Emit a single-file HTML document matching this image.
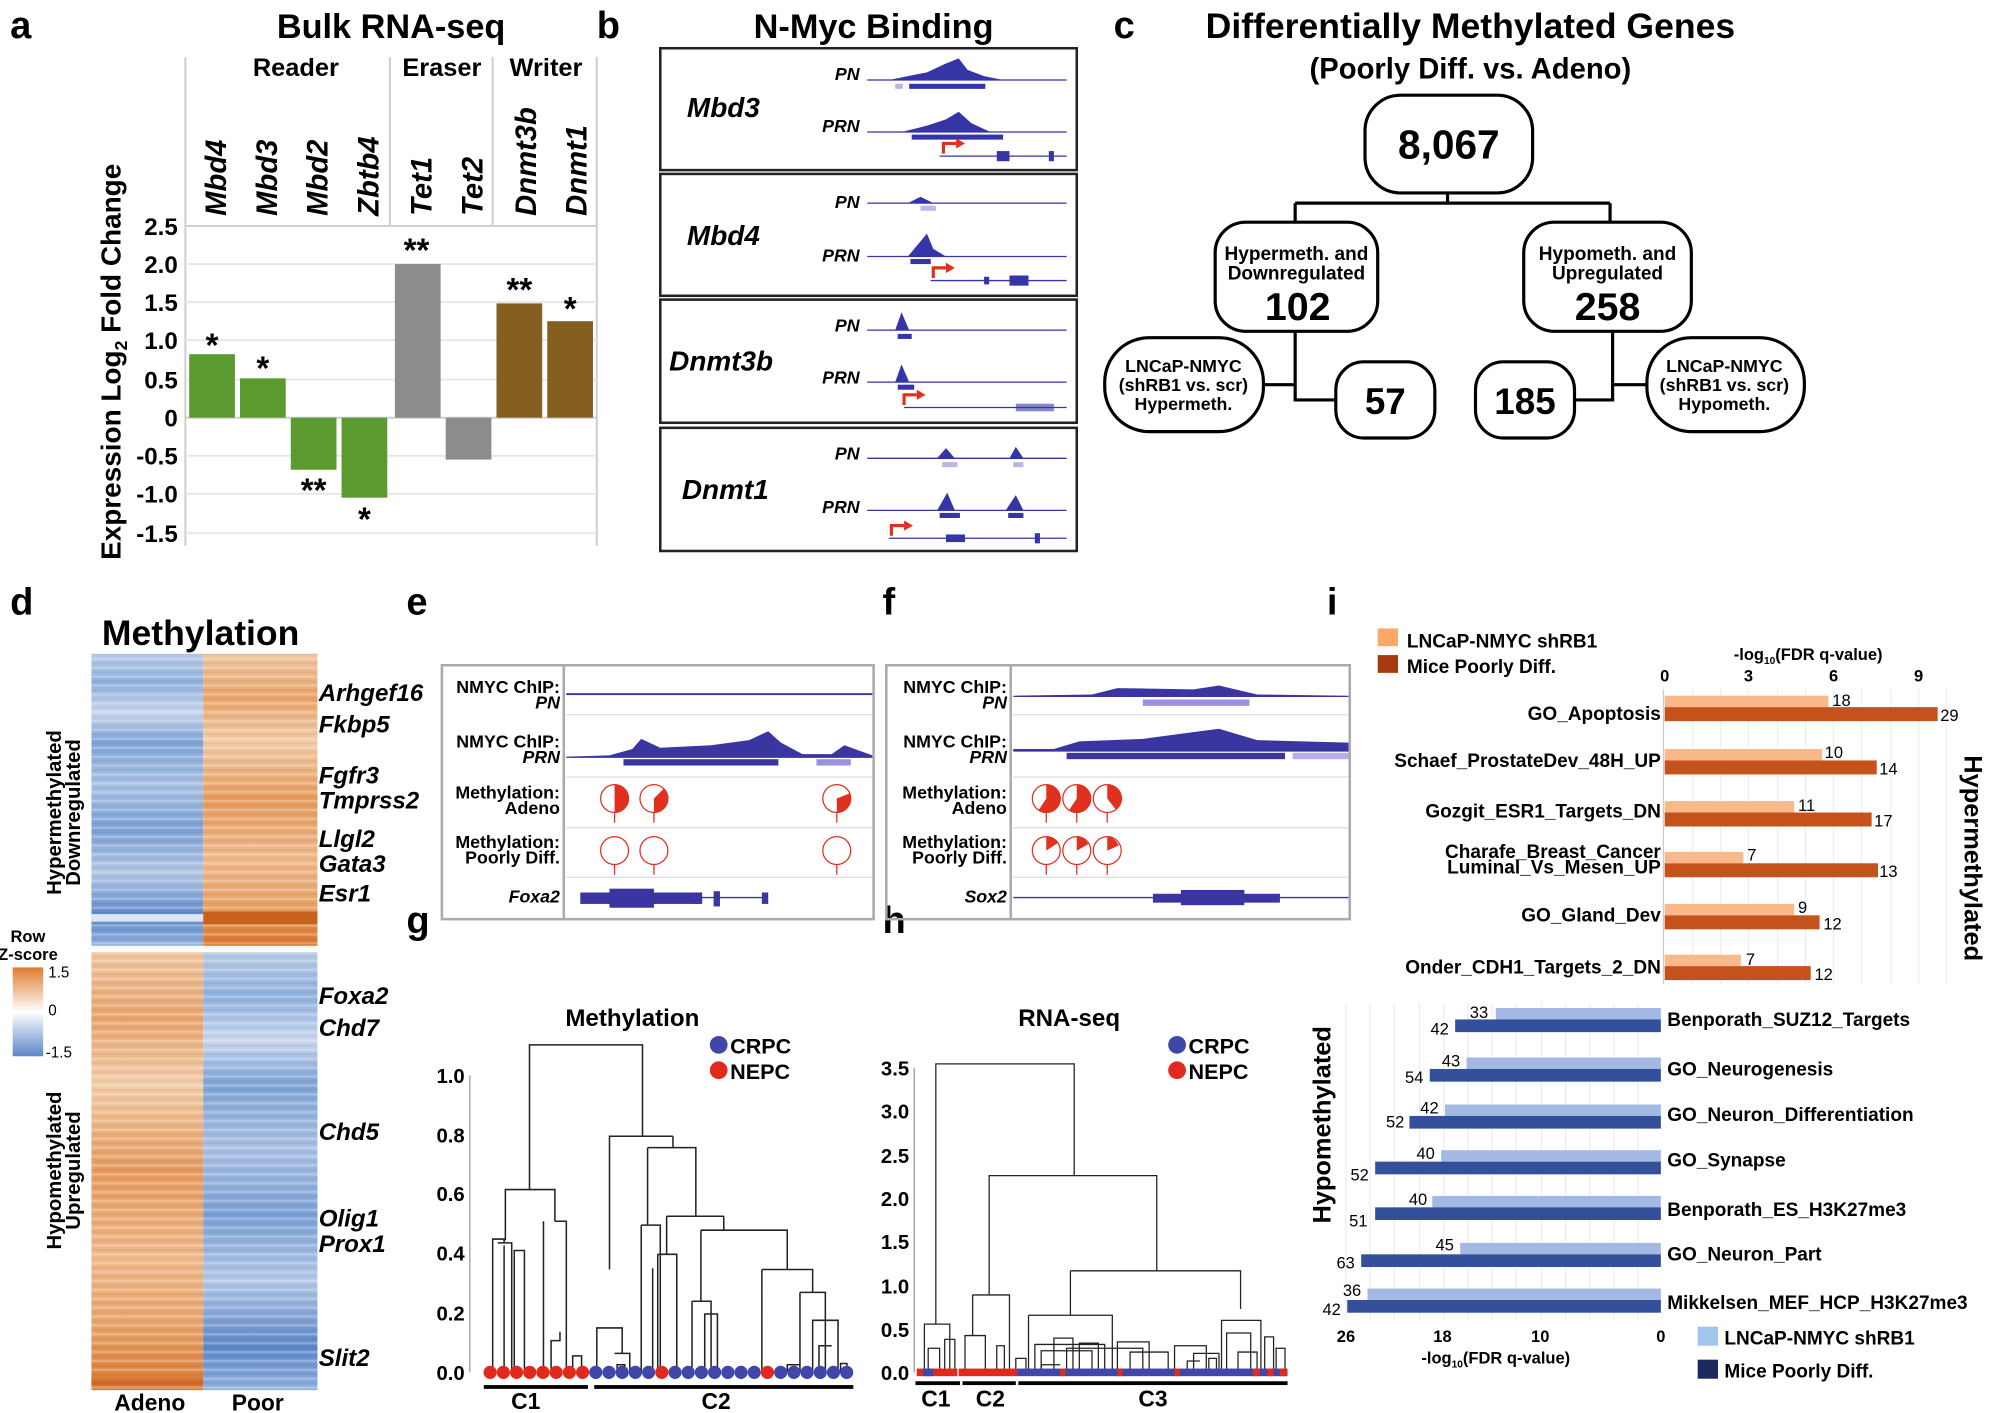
<!DOCTYPE html>
<html><head><meta charset="utf-8"><style>
html,body{margin:0;padding:0;background:#fff}
svg{display:block}
text{font-family:"Liberation Sans",sans-serif}
</style></head><body>
<svg width="1991" height="1413" viewBox="0 0 1568 1113" preserveAspectRatio="none" xmlns="http://www.w3.org/2000/svg">
<defs>
<linearGradient id="hb" x1="0" y1="0" x2="0" y2="1">
<stop offset="0" stop-color="#b8cbe6"/><stop offset="0.1" stop-color="#8fb0dd"/><stop offset="0.2" stop-color="#c9d6ec"/><stop offset="0.3" stop-color="#7ea3d6"/><stop offset="0.45" stop-color="#a9c0e3"/><stop offset="0.6" stop-color="#7a9fd4"/><stop offset="0.75" stop-color="#b3c7e6"/><stop offset="0.9" stop-color="#5b86c8"/><stop offset="1" stop-color="#8fb0dd"/></linearGradient>
<linearGradient id="ho" x1="0" y1="0" x2="0" y2="1">
<stop offset="0" stop-color="#f0c6a0"/><stop offset="0.15" stop-color="#e8a36a"/><stop offset="0.3" stop-color="#f2cca8"/><stop offset="0.5" stop-color="#e59a5c"/><stop offset="0.7" stop-color="#eeb88a"/><stop offset="0.85" stop-color="#e8a36a"/><stop offset="1" stop-color="#d9752e"/></linearGradient>
<pattern id="st" width="10" height="7" patternUnits="userSpaceOnUse"><rect width="10" height="2" fill="#fff" opacity="0.25"/><rect y="4" width="10" height="1" fill="#000" opacity="0.05"/></pattern>
<linearGradient id="leg" x1="0" y1="0" x2="0" y2="1"><stop offset="0" stop-color="#e07b2e"/><stop offset="0.5" stop-color="#fff"/><stop offset="1" stop-color="#5b86c8"/></linearGradient>
</defs>
<g font-weight="bold" font-size="30" fill="#000">
<text x="8" y="30">a</text><text x="470" y="30">b</text><text x="877" y="30">c</text>
<text x="8" y="484">d</text><text x="320" y="484">e</text><text x="695" y="484">f</text>
<text x="1045" y="484">i</text><text x="320" y="735">g</text><text x="695" y="735">h</text>
</g>
<!-- Panel a -->
<text x="308" y="30" font-size="27" font-weight="bold" text-anchor="middle">Bulk RNA-seq</text>
<g stroke="#ccc" stroke-width="1.5" fill="none">
<line x1="146" y1="45" x2="146" y2="430"/><line x1="470" y1="45" x2="470" y2="430"/>
<line x1="307" y1="45" x2="307" y2="178"/><line x1="388" y1="45" x2="388" y2="178"/>
<line x1="146" y1="178" x2="470" y2="178"/>
<line x1="146" y1="208" x2="470" y2="208" stroke="#e6e6e6"/><line x1="146" y1="238" x2="470" y2="238" stroke="#e6e6e6"/>
<line x1="146" y1="268" x2="470" y2="268" stroke="#e6e6e6"/><line x1="146" y1="299" x2="470" y2="299" stroke="#e6e6e6"/>
<line x1="146" y1="329" x2="470" y2="329"/><line x1="146" y1="359" x2="470" y2="359" stroke="#e6e6e6"/>
<line x1="146" y1="389" x2="470" y2="389" stroke="#e6e6e6"/><line x1="146" y1="420" x2="470" y2="420" stroke="#e6e6e6"/>
</g>
<g font-size="20" font-weight="bold" text-anchor="middle">
<text x="233" y="60">Reader</text><text x="348" y="60">Eraser</text><text x="430" y="60">Writer</text>
</g>
<g font-size="23" font-weight="bold" font-style="italic">
<text transform="translate(178,170) rotate(-90)">Mbd4</text>
<text transform="translate(218,170) rotate(-90)">Mbd3</text>
<text transform="translate(258,170) rotate(-90)">Mbd2</text>
<text transform="translate(298,170) rotate(-90)">Zbtb4</text>
<text transform="translate(340,170) rotate(-90)">Tet1</text>
<text transform="translate(380,170) rotate(-90)">Tet2</text>
<text transform="translate(422,170) rotate(-90)">Dnmt3b</text>
<text transform="translate(462,170) rotate(-90)">Dnmt1</text>
</g>
<g font-size="19" font-weight="bold" text-anchor="end">
<text x="140" y="185">2.5</text><text x="140" y="215">2.0</text><text x="140" y="245">1.5</text><text x="140" y="275">1.0</text><text x="140" y="306">0.5</text><text x="140" y="336">0</text><text x="140" y="366">-0.5</text><text x="140" y="396">-1.0</text><text x="140" y="427">-1.5</text>
</g>
<text transform="translate(95,285) rotate(-90)" font-size="22" font-weight="bold" text-anchor="middle">Expression Log<tspan font-size="14" dy="5">2</tspan><tspan dy="-5"> Fold Change</tspan></text>
<rect x="149" y="279" width="36" height="50" fill="#5a9a2f"/>
<rect x="189" y="298" width="36" height="31" fill="#5a9a2f"/>
<rect x="229" y="329" width="36" height="41" fill="#5a9a2f"/>
<rect x="269" y="329" width="36" height="63" fill="#5a9a2f"/>
<rect x="311" y="208" width="36" height="121" fill="#8c8c8c"/>
<rect x="351" y="329" width="36" height="33" fill="#8c8c8c"/>
<rect x="391" y="239" width="36" height="90" fill="#855f20"/>
<rect x="431" y="253" width="36" height="76" fill="#855f20"/>
<g font-size="26" font-weight="bold" text-anchor="middle">
<text x="167" y="281">*</text><text x="207" y="299">*</text><text x="247" y="395">**</text><text x="287" y="418">*</text>
<text x="328" y="206">**</text><text x="409" y="237">**</text><text x="449" y="252">*</text>
</g>
<!-- Panel b -->
<text x="688" y="30" font-size="27" font-weight="bold" text-anchor="middle">N-Myc Binding</text>
<g fill="none" stroke="#222" stroke-width="2">
<rect x="520" y="38" width="328" height="96"/><rect x="520" y="137" width="328" height="96"/>
<rect x="520" y="236" width="328" height="97"/><rect x="520" y="337" width="328" height="97"/>
</g>
<g font-size="22" font-weight="bold" font-style="italic">
<text x="541" y="92">Mbd3</text><text x="541" y="193">Mbd4</text><text x="527" y="292">Dnmt3b</text><text x="537" y="393">Dnmt1</text>
</g>
<g font-size="14" font-weight="bold" font-style="italic" text-anchor="end">
<text x="677" y="63">PN</text><text x="677" y="104">PRN</text><text x="677" y="164">PN</text><text x="677" y="206">PRN</text>
<text x="677" y="261">PN</text><text x="677" y="302">PRN</text><text x="677" y="362">PN</text><text x="677" y="404">PRN</text>
</g>
<g fill="#3535a8">
<line x1="683" y1="63" x2="840" y2="63" stroke="#3535a8"/>
<path d="M700 63 L715 60 L730 57 L745 50 L755 46 L762 55 L775 60 L790 63Z"/>
<rect x="716" y="66" width="60" height="4"/><rect x="705" y="66" width="6" height="4" fill="#b8b8e6"/>
<line x1="683" y1="104" x2="840" y2="104" stroke="#3535a8"/>
<path d="M710 104 L730 99 L745 94 L755 88 L765 97 L780 104Z"/>
<rect x="718" y="106" width="72" height="4"/>
<line x1="740" y1="123" x2="840" y2="123" stroke="#3535a8"/><rect x="785" y="119" width="10" height="8"/><rect x="826" y="119" width="4" height="8"/>
<line x1="683" y1="160" x2="840" y2="160" stroke="#3535a8"/><path d="M715 160 L725 155 L735 160Z"/><rect x="725" y="162" width="12" height="4" fill="#b8b8e6"/>
<line x1="683" y1="202" x2="840" y2="202" stroke="#3535a8"/><path d="M715 202 L725 190 L730 184 L735 196 L745 202Z"/><rect x="717" y="204" width="16" height="4"/>
<line x1="733" y1="221" x2="840" y2="221" stroke="#3535a8"/><rect x="795" y="217" width="15" height="8"/><rect x="775" y="218" width="4" height="6"/>
<line x1="683" y1="260" x2="840" y2="260" stroke="#3535a8"/><path d="M705 260 L710 246 L716 260Z"/><rect x="707" y="263" width="11" height="4"/>
<line x1="683" y1="301" x2="840" y2="301" stroke="#3535a8"/><path d="M705 301 L710 287 L716 301Z"/><rect x="707" y="303" width="13" height="4"/>
<line x1="712" y1="321" x2="840" y2="321" stroke="#3535a8"/><rect x="800" y="318" width="30" height="6" opacity="0.6"/>
<line x1="683" y1="361" x2="840" y2="361" stroke="#3535a8"/><path d="M738 361 L745 353 L752 361Z M795 361 L800 352 L806 361Z"/><rect x="742" y="364" width="12" height="4" fill="#b8b8e6"/><rect x="798" y="364" width="8" height="4" fill="#b8b8e6"/>
<line x1="683" y1="402" x2="840" y2="402" stroke="#3535a8"/><path d="M738 402 L746 388 L752 402Z M792 402 L800 390 L806 402Z"/><rect x="740" y="404" width="16" height="4"/><rect x="794" y="404" width="12" height="4"/>
<line x1="700" y1="424" x2="840" y2="424" stroke="#3535a8"/><rect x="745" y="421" width="15" height="6"/><rect x="815" y="420" width="4" height="8"/>
</g>
<g stroke="#e0301e" stroke-width="2.5" fill="none">
<path d="M743 121 V113 H753"/><path d="M735 219 V211 H745"/><path d="M712 319 V311 H722"/><path d="M702 422 V414 H712"/>
</g>
<g fill="#e0301e"><path d="M753 109 L760 113 L753 117Z"/><path d="M745 207 L752 211 L745 215Z"/><path d="M722 307 L729 311 L722 315Z"/><path d="M712 410 L719 414 L712 418Z"/></g>
<!-- Panel c -->
<g font-weight="bold" text-anchor="middle">
<text x="1158" y="30" font-size="28">Differentially Methylated Genes</text>
<text x="1158" y="62" font-size="23">(Poorly Diff. vs. Adeno)</text>
</g>
<g fill="#fff" stroke="#000" stroke-width="2.5">
<path d="M1140 152 V160 M1020 160 H1268 M1020 160 V175 M1268 160 V175" fill="none"/>
<rect x="1075" y="75" width="132" height="77" rx="28"/>
<rect x="957" y="175" width="128" height="86" rx="24"/>
<rect x="1200" y="175" width="132" height="86" rx="24"/>
<path d="M1020 261 V315 H1052 M995 303 H1020 M1270 261 V315 H1240 M1270 303 H1297" fill="none"/>
<rect x="870" y="266" width="125" height="74" rx="35"/>
<rect x="1052" y="285" width="78" height="60" rx="22"/>
<rect x="1162" y="285" width="78" height="60" rx="22"/>
<rect x="1297" y="266" width="124" height="74" rx="35"/>
</g>
<g font-weight="bold" text-anchor="middle">
<text x="1141" y="125" font-size="32">8,067</text>
<text x="1021" y="205" font-size="15">Hypermeth. and</text><text x="1021" y="220" font-size="15">Downregulated</text>
<text x="1022" y="252" font-size="31">102</text>
<text x="1266" y="205" font-size="15">Hypometh. and</text><text x="1266" y="220" font-size="15">Upregulated</text>
<text x="1266" y="252" font-size="31">258</text>
<text x="932" y="293" font-size="14">LNCaP-NMYC</text><text x="932" y="308" font-size="14">(shRB1 vs. scr)</text><text x="932" y="323" font-size="14">Hypermeth.</text>
<text x="1358" y="293" font-size="14">LNCaP-NMYC</text><text x="1358" y="308" font-size="14">(shRB1 vs. scr)</text><text x="1358" y="323" font-size="14">Hypometh.</text>
<text x="1091" y="326" font-size="29">57</text><text x="1201" y="326" font-size="29">185</text>
</g>
<!-- Panel d -->
<text x="158" y="508" font-size="28" font-weight="bold" text-anchor="middle">Methylation</text>
<rect x="72" y="515" width="88" height="230" fill="url(#hb)"/>
<rect x="160" y="515" width="90" height="230" fill="url(#ho)"/>
<rect x="72" y="750" width="88" height="345" fill="url(#ho)"/>
<rect x="160" y="750" width="90" height="345" fill="url(#hb)"/>
<rect x="72" y="515" width="178" height="580" fill="url(#st)"/>
<rect x="160" y="718" width="90" height="10" fill="#c8601e"/><rect x="72" y="720" width="88" height="6" fill="#dbe5f3"/>
<rect x="72" y="1085" width="88" height="6" fill="#c8601e" opacity="0.6"/>
<g font-size="19" font-weight="bold" font-style="italic">
<text x="251" y="552">Arhgef16</text><text x="251" y="577">Fkbp5</text><text x="251" y="617">Fgfr3</text><text x="251" y="637">Tmprss2</text>
<text x="251" y="667">Llgl2</text><text x="251" y="687">Gata3</text><text x="251" y="710">Esr1</text>
<text x="251" y="791">Foxa2</text><text x="251" y="816">Chd7</text><text x="251" y="898">Chd5</text>
<text x="251" y="966">Olig1</text><text x="251" y="986">Prox1</text><text x="251" y="1076">Slit2</text>
</g>
<g font-size="16" font-weight="bold" text-anchor="middle">
<text transform="translate(48,640) rotate(-90)">Hypermethylated</text><text transform="translate(63,640) rotate(-90)">Downregulated</text>
<text transform="translate(48,922) rotate(-90)">Hypomethylated</text><text transform="translate(63,922) rotate(-90)">Upregulated</text>
<text x="118" y="1111" font-size="18">Adeno</text><text x="203" y="1111" font-size="18">Poor</text>
</g>
<text x="22" y="742" font-size="13" font-weight="bold" text-anchor="middle">Row</text>
<text x="22" y="756" font-size="13" font-weight="bold" text-anchor="middle">Z-score</text>
<rect x="10" y="762" width="24" height="70" fill="url(#leg)"/>
<g font-size="12"><text x="38" y="770">1.5</text><text x="38" y="800">0</text><text x="36" y="833">-1.5</text></g>
<!-- Panel e -->
<g fill="none" stroke="#aaa" stroke-width="2"><rect x="348" y="524" width="340" height="200"/><line x1="444" y1="524" x2="444" y2="724"/></g>
<g stroke="#ddd"><line x1="446" y1="563" x2="687" y2="563"/><line x1="446" y1="612" x2="687" y2="612"/><line x1="446" y1="652" x2="687" y2="652"/><line x1="446" y1="691" x2="687" y2="691"/></g>
<g font-size="14" font-weight="bold" text-anchor="end">
<text x="441" y="546">NMYC ChIP:</text><text x="441" y="558" font-style="italic">PN</text>
<text x="441" y="589">NMYC ChIP:</text><text x="441" y="601" font-style="italic">PRN</text>
<text x="441" y="629">Methylation:</text><text x="441" y="641">Adeno</text>
<text x="441" y="668">Methylation:</text><text x="441" y="680">Poorly Diff.</text>
<text x="441" y="711" font-style="italic">Foxa2</text>
</g>
<g fill="#3a35a0">
<rect x="446" y="546" width="241" height="1.5"/>
<path d="M446 596 L480 595 L498 590 L505 582 L520 589 L560 587 L590 583 L605 576 L615 585 L632 594 L655 594 L665 587 L687 595 V597 H446Z"/>
<rect x="491" y="598" width="122" height="5"/><rect x="643" y="598" width="27" height="5" fill="#9a90e0"/>
<rect x="457" y="703" width="95" height="9"/><rect x="480" y="700" width="35" height="15"/><line x1="457" y1="707" x2="605" y2="707" stroke="#3a35a0"/><rect x="562" y="702" width="5" height="12"/><rect x="600" y="703" width="5" height="9"/><rect x="545" y="703" width="8" height="9"/>
</g>
<g stroke="#e0301e" fill="#fff" stroke-width="1">
<circle cx="484" cy="629" r="11"/><circle cx="515" cy="629" r="11"/><circle cx="659" cy="629" r="11"/>
<circle cx="484" cy="670" r="11"/><circle cx="515" cy="670" r="11"/><circle cx="659" cy="670" r="11"/>
<path d="M484 640 V648 M515 640 V648 M659 640 V648 M484 681 V689 M515 681 V689 M659 681 V689"/>
</g>
<g fill="#e0301e"><path d="M484 629 V618 A11 11 0 0 1 484 640Z"/><path d="M515 629 L523 621 A11 11 0 0 1 515 640Z"/><path d="M659 629 L669 625 A11 11 0 0 1 659 640Z"/></g>
<!-- Panel f -->
<g fill="none" stroke="#aaa" stroke-width="2"><rect x="698" y="524" width="365" height="200"/><line x1="796" y1="524" x2="796" y2="724"/></g>
<g stroke="#ddd"><line x1="798" y1="563" x2="1062" y2="563"/><line x1="798" y1="612" x2="1062" y2="612"/><line x1="798" y1="652" x2="1062" y2="652"/><line x1="798" y1="691" x2="1062" y2="691"/></g>
<g font-size="14" font-weight="bold" text-anchor="end">
<text x="793" y="546">NMYC ChIP:</text><text x="793" y="558" font-style="italic">PN</text>
<text x="793" y="589">NMYC ChIP:</text><text x="793" y="601" font-style="italic">PRN</text>
<text x="793" y="629">Methylation:</text><text x="793" y="641">Adeno</text>
<text x="793" y="668">Methylation:</text><text x="793" y="680">Poorly Diff.</text>
<text x="793" y="711" font-style="italic">Sox2</text>
</g>
<g fill="#3a35a0">
<path d="M798 548 L860 547 L880 542 L940 543 L960 540 L990 547 L1062 548 V549 H798Z"/>
<rect x="900" y="551" width="84" height="5" fill="#9a90e0"/>
<path d="M798 590 L830 590 L850 584 L900 582 L930 578 L960 574 L990 583 L1062 585 V592 H798Z"/>
<rect x="840" y="593" width="172" height="5"/><rect x="1018" y="593" width="44" height="5" fill="#b5aef0"/>
<line x1="798" y1="707" x2="1062" y2="707" stroke="#3a35a0"/><rect x="908" y="704" width="100" height="7"/><rect x="930" y="701" width="50" height="12"/>
</g>
<g stroke="#e0301e" fill="#fff" stroke-width="1">
<circle cx="824" cy="629" r="11"/><circle cx="848" cy="629" r="11"/><circle cx="872" cy="629" r="11"/>
<circle cx="824" cy="670" r="11"/><circle cx="848" cy="670" r="11"/><circle cx="872" cy="670" r="11"/>
<path d="M824 640 V648 M848 640 V648 M872 640 V648 M824 681 V689 M848 681 V689 M872 681 V689"/>
</g>
<g fill="#e0301e"><path d="M824 629 V618 A11 11 0 1 1 818 638Z"/><path d="M848 629 V618 A11 11 0 1 1 842 638Z"/><path d="M872 629 V618 A11 11 0 0 1 879 638Z"/>
<path d="M824 670 V659 A11 11 0 0 1 833 664Z"/><path d="M848 670 V659 A11 11 0 0 1 857 665Z"/><path d="M872 670 V659 A11 11 0 0 1 881 666Z"/></g>
<!-- Panel g -->
<text x="498" y="808" font-size="19" font-weight="bold" text-anchor="middle">Methylation</text>
<circle cx="566" cy="823" r="7" fill="#4147a8"/><text x="575" y="830" font-size="17" font-weight="bold">CRPC</text>
<circle cx="566" cy="843" r="7" fill="#e02a1e"/><text x="575" y="850" font-size="17" font-weight="bold">NEPC</text>
<g stroke="#999" fill="none"><line x1="370" y1="847" x2="370" y2="1081"/></g>
<g font-size="16" font-weight="bold" text-anchor="end">
<text x="366" y="1087">0.0</text><text x="366" y="1040">0.2</text><text x="366" y="993">0.4</text><text x="366" y="946">0.6</text><text x="366" y="900">0.8</text><text x="366" y="853">1.0</text></g>
<g stroke="#222" fill="none" stroke-width="1.2">
<path d="M417 937 V823 H506 V895"/>
<path d="M398 977 V937 H437 V962"/>
<path d="M388 1081 V976 H397 V979 M392 979 H403 V1081 M397 981 V1081 M405 1081 V985 H413 V1081"/>
<path d="M437 962 H446 V1081 M428 962 V1081 M434 1081 V1056 H441 V1049 M451 1081 V1068 H458 V1081"/>
<path d="M480 1000 V895 H530"/><path d="M470 1081 V1046 H490 V1066 M484 1066 H496 V1081 M486 1081 V1075 H492 V1081"/>
<path d="M530 895 V904 M510 904 H548 V958 M510 904 V965"/>
<path d="M505 965 H520 V1081 M505 965 V1081 M514 1081 V999 M520 1031 V1081"/>
<path d="M525 958 H570 M525 958 V988 M518 988 H533 V1081 M518 988 V1081"/>
<path d="M570 958 V969 M552 969 H620 V1000 M552 969 V1025 M545 1025 H560 V1081 M545 1025 V1081 M555 1081 V1035 H565 V1081"/>
<path d="M600 1000 H640 V1018 M600 1000 V1081 M630 1018 H650 V1081 M630 1018 V1081 M620 1081 V1075 H630 M640 1081 V1040 H660 V1081 M645 1081 V1060 H655 M660 1060 V1081 M662 1081 V1074 H667 V1081"/>
</g>
<g>
<circle cx="386" cy="1081" r="5.2" fill="#e02a1e"/><circle cx="396.4" cy="1081" r="5.2" fill="#e02a1e"/><circle cx="406.8" cy="1081" r="5.2" fill="#e02a1e"/><circle cx="417.2" cy="1081" r="5.2" fill="#e02a1e"/><circle cx="427.6" cy="1081" r="5.2" fill="#e02a1e"/><circle cx="438" cy="1081" r="5.2" fill="#e02a1e"/><circle cx="448.4" cy="1081" r="5.2" fill="#e02a1e"/><circle cx="458.8" cy="1081" r="5.2" fill="#e02a1e"/>
<circle cx="469.2" cy="1081" r="5.2" fill="#4147a8"/><circle cx="479.6" cy="1081" r="5.2" fill="#4147a8"/><circle cx="490" cy="1081" r="5.2" fill="#4147a8"/><circle cx="500.4" cy="1081" r="5.2" fill="#4147a8"/><circle cx="510.8" cy="1081" r="5.2" fill="#4147a8"/><circle cx="521.2" cy="1081" r="5.2" fill="#e02a1e"/>
<circle cx="531.6" cy="1081" r="5.2" fill="#4147a8"/><circle cx="542" cy="1081" r="5.2" fill="#4147a8"/><circle cx="552.4" cy="1081" r="5.2" fill="#4147a8"/><circle cx="562.8" cy="1081" r="5.2" fill="#4147a8"/><circle cx="573.2" cy="1081" r="5.2" fill="#4147a8"/><circle cx="583.6" cy="1081" r="5.2" fill="#4147a8"/><circle cx="594" cy="1081" r="5.2" fill="#4147a8"/><circle cx="604.4" cy="1081" r="5.2" fill="#e02a1e"/>
<circle cx="614.8" cy="1081" r="5.2" fill="#4147a8"/><circle cx="625.2" cy="1081" r="5.2" fill="#4147a8"/><circle cx="635.6" cy="1081" r="5.2" fill="#4147a8"/><circle cx="646" cy="1081" r="5.2" fill="#4147a8"/><circle cx="656.4" cy="1081" r="5.2" fill="#4147a8"/><circle cx="666.8" cy="1081" r="5.2" fill="#4147a8"/>
</g>
<rect x="381" y="1091" width="82" height="3"/><rect x="468" y="1091" width="204" height="3"/>
<g font-size="18" font-weight="bold" text-anchor="middle"><text x="414" y="1110">C1</text><text x="564" y="1110">C2</text></g>
<!-- Panel h -->
<text x="842" y="808" font-size="19" font-weight="bold" text-anchor="middle">RNA-seq</text>
<circle cx="927" cy="823" r="7" fill="#4147a8"/><text x="936" y="830" font-size="17" font-weight="bold">CRPC</text>
<circle cx="927" cy="843" r="7" fill="#e02a1e"/><text x="936" y="850" font-size="17" font-weight="bold">NEPC</text>
<line x1="720" y1="841" x2="720" y2="1081" stroke="#999"/>
<g font-size="16" font-weight="bold" text-anchor="end">
<text x="716" y="1087">0.0</text><text x="716" y="1053">0.5</text><text x="716" y="1019">1.0</text><text x="716" y="984">1.5</text><text x="716" y="950">2.0</text><text x="716" y="916">2.5</text><text x="716" y="881">3.0</text><text x="716" y="847">3.5</text></g>
<g stroke="#222" fill="none" stroke-width="1">
<path d="M737 1043 V838 H846 V926"/>
<path d="M779 1020 V926 H911 V1001"/>
<path d="M728 1081 V1043 H748 V1081 M731 1081 V1062 H740 V1081 M744 1081 V1055 H752 V1081"/>
<path d="M760 1081 V1052 H776 V1081 M766 1020 H795 V1081 M766 1020 V1052 M785 1081 V1060 H791 V1081"/>
<path d="M843 1001 H977 V1031 M843 1001 V1036 M810 1036 H876 V1081 M810 1036 V1081"/>
<path d="M815 1081 V1059 H870 V1081 M820 1081 V1064 H860 V1081 M830 1081 V1054 H845 V1081 M850 1081 V1058 H865 V1081"/>
<path d="M840 1081 V1062 H900 V1081 M880 1081 V1057 H905 V1081 M890 1081 V1065 H920 V1081 M925 1081 V1060 H950 V1081 M940 1081 V1066 H960 V1081"/>
<path d="M962 1081 V1040 H993 V1081 M966 1081 V1050 H985 V1081 M975 1081 V1065 H990 V1081 M996 1081 V1053 H1003 V1081 M1005 1081 V1062 H1012 V1081"/>
<path d="M800 1081 V1070 H808 V1081 M820 1081 V1075 H835 M935 1081 V1072 H945 M952 1081 V1070 H958 V1081"/>
</g>
<g>
<rect x="722" y="1078" width="32" height="6" fill="#e02a1e"/><rect x="727" y="1078" width="8" height="6" fill="#4147a8"/>
<rect x="755" y="1078" width="46" height="6" fill="#e02a1e"/>
<rect x="801" y="1078" width="212" height="6" fill="#4147a8"/>
<rect x="835" y="1078" width="4" height="6" fill="#e02a1e"/><rect x="880" y="1078" width="4" height="6" fill="#e02a1e"/><rect x="925" y="1078" width="4" height="6" fill="#e02a1e"/>
<rect x="987" y="1078" width="5" height="6" fill="#e02a1e"/><rect x="998" y="1078" width="5" height="6" fill="#e02a1e"/><rect x="1008" y="1078" width="6" height="6" fill="#e02a1e"/>
</g>
<rect x="721" y="1088" width="35" height="3"/><rect x="758" y="1088" width="42" height="3"/><rect x="802" y="1088" width="212" height="3"/>
<g font-size="18" font-weight="bold" text-anchor="middle"><text x="737" y="1108">C1</text><text x="780" y="1108">C2</text><text x="908" y="1108">C3</text></g>
<!-- Panel i -->
<rect x="1085" y="495" width="16" height="14" fill="#fda86a"/><text x="1108" y="510" font-size="15" font-weight="bold">LNCaP-NMYC shRB1</text>
<rect x="1085" y="516" width="16" height="14" fill="#a53a10"/><text x="1108" y="530" font-size="15" font-weight="bold">Mice Poorly Diff.</text>
<text x="1424" y="520" font-size="13" font-weight="bold" text-anchor="middle">-log<tspan font-size="8" dy="3">10</tspan><tspan dy="-3">(FDR q-value)</tspan></text>
<g font-size="13" font-weight="bold" text-anchor="middle"><text x="1311" y="537">0</text><text x="1377" y="537">3</text><text x="1444" y="537">6</text><text x="1511" y="537">9</text></g>
<g stroke="#eee"><line x1="1333" y1="543" x2="1333" y2="775"/><line x1="1355" y1="543" x2="1355" y2="775"/><line x1="1377" y1="543" x2="1377" y2="775"/><line x1="1400" y1="543" x2="1400" y2="775"/><line x1="1422" y1="543" x2="1422" y2="775"/><line x1="1444" y1="543" x2="1444" y2="775"/><line x1="1466" y1="543" x2="1466" y2="775"/><line x1="1489" y1="543" x2="1489" y2="775"/><line x1="1511" y1="543" x2="1511" y2="775"/><line x1="1533" y1="543" x2="1533" y2="775"/></g>
<line x1="1310" y1="543" x2="1310" y2="775" stroke="#ccc"/>
<g>
<rect x="1311" y="548" width="129" height="9" fill="#f9b98a"/><rect x="1311" y="557" width="215" height="11" fill="#c4521a"/>
<rect x="1311" y="590" width="124" height="9" fill="#f9b98a"/><rect x="1311" y="599" width="167" height="11" fill="#c4521a"/>
<rect x="1311" y="631" width="102" height="9" fill="#f9b98a"/><rect x="1311" y="640" width="163" height="11" fill="#c4521a"/>
<rect x="1311" y="671" width="62" height="9" fill="#f9b98a"/><rect x="1311" y="680" width="168" height="11" fill="#c4521a"/>
<rect x="1311" y="712" width="102" height="9" fill="#f9b98a"/><rect x="1311" y="721" width="122" height="11" fill="#c4521a"/>
<rect x="1311" y="752" width="60" height="9" fill="#f9b98a"/><rect x="1311" y="761" width="115" height="11" fill="#c4521a"/>
</g>
<g font-size="13"><text x="1443" y="556">18</text><text x="1528" y="568">29</text><text x="1437" y="597">10</text><text x="1480" y="610">14</text><text x="1416" y="639">11</text><text x="1476" y="651">17</text>
<text x="1376" y="678">7</text><text x="1480" y="691">13</text><text x="1416" y="719">9</text><text x="1436" y="732">12</text><text x="1375" y="760">7</text><text x="1429" y="772">12</text></g>
<g font-size="15" font-weight="bold" text-anchor="end">
<text x="1308" y="567">GO_Apoptosis</text><text x="1308" y="604">Schaef_ProstateDev_48H_UP</text><text x="1308" y="644">Gozgit_ESR1_Targets_DN</text>
<text x="1308" y="676">Charafe_Breast_Cancer</text><text x="1308" y="688">Luminal_Vs_Mesen_UP</text><text x="1308" y="726">GO_Gland_Dev</text><text x="1308" y="767">Onder_CDH1_Targets_2_DN</text></g>
<text transform="translate(1547,676) rotate(90)" font-size="20" font-weight="bold" text-anchor="middle">Hypermethylated</text>
<text transform="translate(1048,886) rotate(-90)" font-size="20" font-weight="bold" text-anchor="middle">Hypomethylated</text>
<g stroke="#eee"><line x1="1060" y1="790" x2="1060" y2="1040"/><line x1="1079" y1="790" x2="1079" y2="1040"/><line x1="1098" y1="790" x2="1098" y2="1040"/><line x1="1118" y1="790" x2="1118" y2="1040"/><line x1="1137" y1="790" x2="1137" y2="1040"/><line x1="1156" y1="790" x2="1156" y2="1040"/><line x1="1175" y1="790" x2="1175" y2="1040"/><line x1="1194" y1="790" x2="1194" y2="1040"/><line x1="1214" y1="790" x2="1214" y2="1040"/><line x1="1233" y1="790" x2="1233" y2="1040"/><line x1="1252" y1="790" x2="1252" y2="1040"/><line x1="1271" y1="790" x2="1271" y2="1040"/><line x1="1290" y1="790" x2="1290" y2="1040"/></g>
<g>
<rect x="1178" y="794" width="130" height="9" fill="#a3b8e2"/><rect x="1146" y="803" width="162" height="10" fill="#34509a"/>
<rect x="1155" y="833" width="153" height="9" fill="#a3b8e2"/><rect x="1126" y="842" width="182" height="10" fill="#34509a"/>
<rect x="1138" y="870" width="170" height="9" fill="#a3b8e2"/><rect x="1110" y="879" width="198" height="10" fill="#34509a"/>
<rect x="1135" y="906" width="173" height="9" fill="#a3b8e2"/><rect x="1083" y="915" width="225" height="10" fill="#34509a"/>
<rect x="1128" y="942" width="180" height="9" fill="#a3b8e2"/><rect x="1083" y="951" width="225" height="10" fill="#34509a"/>
<rect x="1150" y="979" width="158" height="9" fill="#a3b8e2"/><rect x="1072" y="988" width="236" height="10" fill="#34509a"/>
<rect x="1077" y="1015" width="231" height="9" fill="#a3b8e2"/><rect x="1061" y="1024" width="247" height="10" fill="#34509a"/>
</g>
<g font-size="13" text-anchor="end"><text x="1172" y="802">33</text><text x="1141" y="815">42</text><text x="1150" y="840">43</text><text x="1121" y="853">54</text><text x="1133" y="877">42</text><text x="1106" y="888">52</text>
<text x="1130" y="913">40</text><text x="1078" y="930">52</text><text x="1124" y="949">40</text><text x="1077" y="966">51</text><text x="1145" y="985">45</text><text x="1067" y="999">63</text><text x="1072" y="1021">36</text><text x="1056" y="1036">42</text></g>
<g font-size="15" font-weight="bold"><text x="1313" y="808">Benporath_SUZ12_Targets</text><text x="1313" y="847">GO_Neurogenesis</text><text x="1313" y="883">GO_Neuron_Differentiation</text>
<text x="1313" y="919">GO_Synapse</text><text x="1313" y="958">Benporath_ES_H3K27me3</text><text x="1313" y="993">GO_Neuron_Part</text><text x="1313" y="1031">Mikkelsen_MEF_HCP_H3K27me3</text></g>
<g font-size="13" font-weight="bold" text-anchor="middle"><text x="1060" y="1057">26</text><text x="1136" y="1057">18</text><text x="1213" y="1057">10</text><text x="1308" y="1057">0</text></g>
<text x="1178" y="1074" font-size="13" font-weight="bold" text-anchor="middle">-log<tspan font-size="8" dy="3">10</tspan><tspan dy="-3">(FDR q-value)</tspan></text>
<rect x="1337" y="1045" width="16" height="15" fill="#a3c4ee"/><text x="1358" y="1059" font-size="15" font-weight="bold">LNCaP-NMYC shRB1</text>
<rect x="1337" y="1071" width="16" height="15" fill="#1e2a5e"/><text x="1358" y="1085" font-size="15" font-weight="bold">Mice Poorly Diff.</text>
</svg>
</body></html>
